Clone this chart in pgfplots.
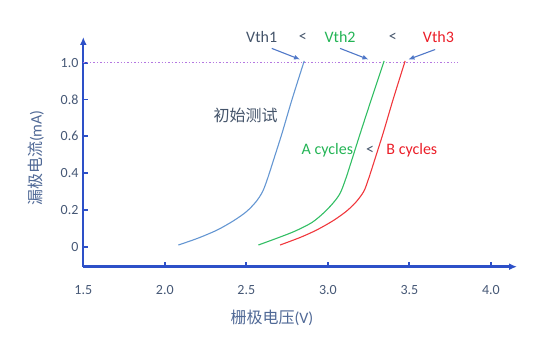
\documentclass[border=0pt]{standalone}
\usepackage{fontspec}
\setmainfont{Carlito}
\newfontfamily\cjk{Noto Sans CJK SC}
\usepackage{pgfplots}
\pgfplotsset{compat=1.18}
\usetikzlibrary{arrows.meta}
\definecolor{axcol}{RGB}{45,80,200}
\definecolor{tickcol}{RGB}{70,88,118}
\definecolor{labcol}{RGB}{80,105,150}
\definecolor{slate}{RGB}{68,84,106}
\definecolor{cblue}{RGB}{100,150,210}
\definecolor{cgreen}{RGB}{50,190,100}
\definecolor{cred}{RGB}{240,55,60}
\definecolor{tgreen}{RGB}{35,180,85}
\definecolor{tred}{RGB}{235,30,40}
\definecolor{arrcol}{RGB}{80,120,200}
\definecolor{dotcol}{RGB}{180,120,225}
\begin{document}
\begin{tikzpicture}
\path[use as bounding box] (-83.3pt,-75.3pt) rectangle (470.7pt,266.7pt);
\begin{axis}[
  scale only axis, width=433.7pt, height=229.7pt,
  at={(0pt,0pt)}, anchor=south west,
  xmin=1.5, xmax=4.16, ymin=-0.109, ymax=1.14,
  axis lines=left, clip=false,
  axis line style={draw=axcol, line width=2.4pt},
  every outer x axis line/.append style={draw=axcol, line width=2.4pt, -{Latex[length=8pt,width=7pt]}},
  every outer y axis line/.append style={draw=axcol, line width=2.4pt, -{Latex[length=8pt,width=7pt]}},
  xtick={1.5,2.0,2.5,3.0,3.5,4.0},
  xticklabels={1.5,2.0,2.5,3.0,3.5,4.0},
  ytick={0,0.2,0.4,0.6,0.8,1.0},
  yticklabels={0,0.2,0.4,0.6,0.8,1.0},
  tick align=inside, major tick length=5pt,
  major tick style={draw=axcol, line width=1.8pt},
  /pgf/number format/assume math mode=true,
  ticklabel style={font=\fontsize{14}{16}\selectfont, text=tickcol},
  xticklabel style={anchor=center, yshift=-23.3pt},
  yticklabel style={anchor=east, xshift=-1.3pt},
  xlabel={{\cjk 栅极电压}(V)},
  ylabel={{\cjk 漏极电流}(mA)},
  xlabel style={at={(rel axis cs:0.435,-0.223)}, anchor=center, font=\fontsize{16}{19}\selectfont, text=labcol},
  ylabel style={at={(rel axis cs:-0.109,0.473)}, anchor=center, font=\fontsize{16}{19}\selectfont, text=labcol},
]
\addplot[dotcol, dotted, line width=1.4pt] coordinates {(1.5,1.0) (3.80,1.0)};
\addplot[cblue, line width=1.1pt, smooth, tension=0.5] coordinates {
 (2.083,0.009) (2.20,0.045) (2.32,0.09) (2.42,0.14) (2.50,0.19) (2.56,0.245) (2.60,0.30) (2.63,0.37) (2.67,0.48) (2.72,0.62) (2.78,0.80) (2.855,1.01)};
\addplot[cgreen, line width=1.1pt, smooth, tension=0.5] coordinates {
 (2.574,0.009) (2.70,0.05) (2.80,0.085) (2.90,0.13) (2.97,0.18) (3.03,0.235) (3.075,0.29) (3.11,0.37) (3.15,0.48) (3.20,0.62) (3.27,0.81) (3.345,1.01)};
\addplot[cred, line width=1.1pt, smooth, tension=0.5] coordinates {
 (2.707,0.009) (2.83,0.05) (2.93,0.09) (3.03,0.14) (3.11,0.19) (3.17,0.24) (3.22,0.30) (3.25,0.37) (3.29,0.48) (3.34,0.62) (3.40,0.80) (3.474,1.01)};
\draw[arrcol, line width=1.1pt, -{Latex[length=6pt,width=5pt]}] (axis cs:2.656,1.078) -- (axis cs:2.829,1.018);
\draw[arrcol, line width=1.1pt, -{Latex[length=6pt,width=5pt]}] (axis cs:3.075,1.078) -- (axis cs:3.249,1.018);
\draw[arrcol, line width=1.1pt, -{Latex[length=6pt,width=5pt]}] (axis cs:3.658,1.072) -- (axis cs:3.494,1.018);
\begin{scope}[every node/.style={font=\fontsize{16}{19}\selectfont, anchor=center}]
\node[text=slate] at (axis cs:2.594,1.141) {Vth1};
\node[text=slate] at (axis cs:2.846,1.141) {<};
\node[text=tgreen] at (axis cs:3.075,1.141) {Vth2};
\node[text=slate] at (axis cs:3.398,1.141) {<};
\node[text=tred] at (axis cs:3.678,1.141) {Vth3};
\node[text=slate] at (axis cs:2.496,0.716) {\cjk 初始测试};
\node[text=tgreen] at (axis cs:2.997,0.526) {A cycles};
\node[text=slate] at (axis cs:3.259,0.526) {<};
\node[text=tred] at (axis cs:3.515,0.526) {B cycles};
\end{scope}
\end{axis}
\end{tikzpicture}
\end{document}
